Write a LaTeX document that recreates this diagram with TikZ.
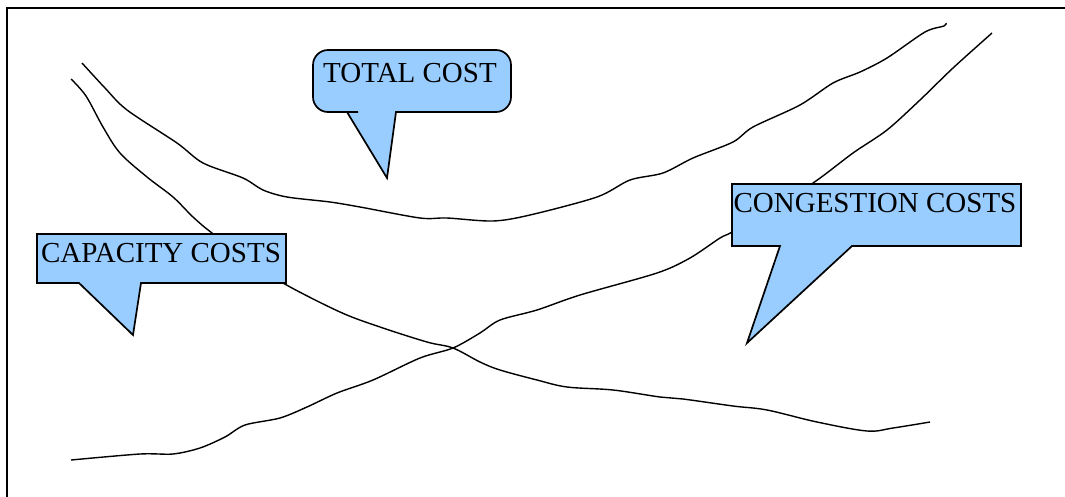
\documentclass[tikz,border=0pt]{standalone}
\usepackage{fontspec}
\setmainfont{Liberation Serif}
\usepackage{tikz}
\usetikzlibrary{positioning}
\definecolor{calloutblue}{RGB}{153,204,255}

\begin{document}
\begin{tikzpicture}[x=1pt, y=-1pt,
		curve/.style={line width=1.4pt, line join=round},
		callout/.style={draw, line width=1.7pt, fill=calloutblue, line join=miter},
		every node/.style={font=\fontsize{29}{32}\selectfont, inner sep=0pt}]
	\clip (0,0) rectangle (1065,496);
	\draw[line width=1.5pt] (7,8) rectangle (1080,510);
	% cost curves
	\draw[curve] plot[smooth, tension=0.5] coordinates {(82,63) (105,88) (127,110) (177,143) (203,163) (243,178) (263,190) (287,197) (330,202) (360,207) (420,218) (447,218) (493,221) (530,215) (597,197) (630,180) (663,173) (693,158) (733,142) (753,127) (800,105) (833,83) (860,72) (887,58) (925,32) (944,26) (946,23)};
	\draw[curve] plot[smooth, tension=0.55] coordinates {(71,79) (86,96) (103,127) (120,153) (147,177) (173,197) (193,217) (212,233) (250,260) (283,283) (340,312) (380,327) (427,342) (453,348) (480,362) (500,370) (537,380) (567,387) (613,390) (660,397) (683,399) (733,406) (767,410) (817,422) (867,431) (893,428) (930,422)};
	\draw[curve] plot[smooth, tension=0.5] coordinates {(71,460) (140,454) (173,454) (200,448) (225,437) (245,425) (280,418) (307,407) (337,393) (373,380) (420,358) (453,348) (480,333) (500,320) (537,310) (580,295) (657,273) (690,258) (720,238) (732,232) (770,208) (813,183) (853,153) (887,130) (920,100) (953,68) (992,33)};
	% callouts
	\draw[callout] (387,178) -- (396,112) -- (400,112) [rounded corners=15] -- (511,112) -- (511,50) -- (313,50) -- (313,112) -- (343,112) [sharp corners] -- (347,112) -- cycle;
	\draw[callout] (133,335) -- (141,283) -- (286,283) -- (286,234) -- (37,234) -- (37,283) -- (79,283) -- cycle;
	\draw[callout] (747,343) -- (852,246) -- (1021,246) -- (1021,184) -- (732,184) -- (732,246) -- (780,246) -- cycle;
	\node[anchor=base] (total) at (410,82) {TOTAL COST};
	\node[anchor=base] (capacity) at (161,262) {CAPACITY COSTS};
	\node[anchor=base] (congestion) at (875,212) {CONGESTION COSTS};
\end{tikzpicture}
\end{document}
